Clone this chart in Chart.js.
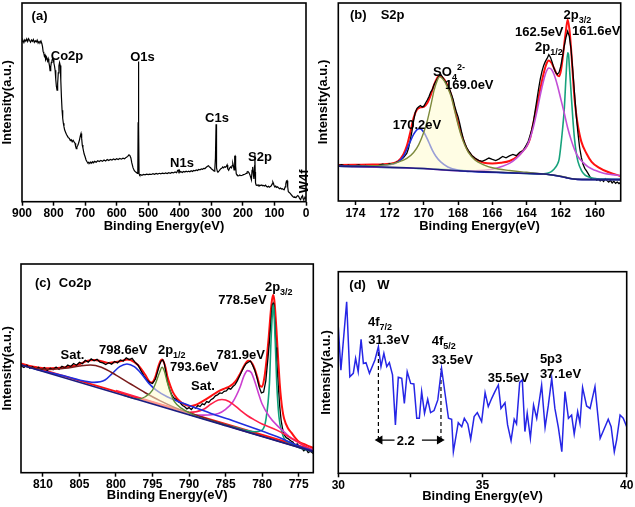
<!DOCTYPE html>
<html><head><meta charset="utf-8">
<script src="https://cdn.jsdelivr.net/npm/chart.js@4.4.1/dist/chart.umd.min.js"></script>
<style>
html,body{margin:0;padding:0;background:#fff;}
body{width:635px;height:507px;position:relative;overflow:hidden;}
canvas{position:absolute;}
</style></head><body>
<canvas id="ca" width="316" height="240" style="left:0;top:0;width:316px;height:240px"></canvas>
<canvas id="cb" width="319" height="240" style="left:316px;top:0;width:319px;height:240px"></canvas>
<canvas id="cc" width="316" height="257" style="left:0;top:250px;width:316px;height:257px"></canvas>
<canvas id="cd" width="319" height="257" style="left:316px;top:250px;width:319px;height:257px"></canvas>
<script>
// ---------------- DATA ----------------
// Tick values
const A_TICKS = [900,800,700,600,500,400,300,200,100,0];
const B_TICKS = [174,172,170,168,166,164,162,160];
const C_TICKS = [810,805,800,795,790,785,780,775];
const D_TICKS = [30,32.5,35,37.5,40];
const D_LABELED = [30,35,40];

// (a) survey spectrum [BE, intensity]
const A_SURVEY = [[900,80.5],[897,81.2],[894,80.1],[891,81.5],[888,80.8],[885,81.9],[882,80.6],[879,82.0],[876,81.1],[873,80.3],[870,81.4],[867,80.7],[864,81.6],[861,80.2],[858,81.0],[855,80.4],[852,81.3],[849,79.8],[846,80.6],[843,80.1],[840,80.9],[837,79.5],[835,78.0],[833,75.5],[831,74.8],[829,73.2],[827,73.8],[825,71.5],[822,72.6],[819,70.8],[817,71.9],[815,70.2],[813,68.5],[811,66.0],[809,67.8],[807,70.1],[805,71.0],[803,72.2],[801,71.6],[799,69.8],[797,68.3],[795,66.1],[793,61.5],[791,58.0],[789,56.2],[787,59.5],[785,64.8],[783,68.4],[781,70.0],[779,68.6],[777,61.0],[775,52.5],[773,46.0],[771,42.0],[769,39.5],[767,37.8],[765,36.2],[762,35.0],[759,33.8],[756,33.0],[753,32.2],[750,31.9],[747,30.8],[744,31.2],[741,30.2],[738,30.9],[735,30.1],[732,29.4],[730,27.8],[728,26.7],[726,27.5],[723,28.4],[721,29.3],[718,31.0],[715,33.2],[713,34.3],[711,32.0],[709,28.5],[707,27.1],[705,25.5],[703,24.0],[700,22.6],[697,21.0],[694,20.1],[691,19.5],[688,19.8],[685,19.2],[682,20.0],[679,19.4],[676,20.1],[673,19.6],[670,20.3],[665,19.9],[660,20.6],[655,20.2],[650,20.8],[645,20.3],[640,21.0],[635,20.5],[630,21.2],[625,20.7],[620,21.3],[615,21.0],[610,21.5],[605,21.1],[600,21.6],[595,21.2],[590,21.8],[585,21.4],[580,21.9],[575,21.6],[570,22.3],[565,22.8],[561,23.6],[558,23.2],[555,22.0],[552,19.5],[548,17.0],[544,15.6],[540,14.9],[537,14.7],[535,14.3],[533,15.0],[532,40.0],[531,70.5],[530,38.0],[529,14.0],[527,13.4],[524,13.6],[520,13.3],[515,13.7],[510,13.5],[505,13.9],[500,13.6],[495,13.9],[490,13.7],[485,14.1],[480,13.8],[475,14.2],[470,13.9],[465,14.3],[460,14.0],[455,14.4],[450,14.1],[445,14.5],[440,14.2],[435,14.6],[430,14.3],[425,14.7],[420,14.5],[415,15.0],[410,14.6],[407,15.6],[405,15.9],[403,15.2],[401,15.8],[399,14.9],[396,15.1],[392,14.7],[388,15.2],[384,14.9],[380,15.3],[376,15.0],[372,15.4],[368,15.1],[364,15.6],[360,15.2],[356,15.7],[352,15.5],[348,16.0],[344,15.7],[340,16.2],[336,16.0],[332,16.5],[328,16.3],[324,16.8],[320,16.7],[316,17.3],[312,17.8],[309,18.1],[306,17.5],[303,17.2],[300,16.6],[297,16.2],[294,15.8],[291,15.4],[289,16.5],[287,22.0],[285,39.0],[284,30.0],[283,17.0],[281,15.2],[279,15.0],[276,15.4],[273,16.0],[270,16.6],[267,16.8],[264,17.5],[261,17.0],[258,17.6],[255,17.3],[252,17.9],[250,18.5],[248,16.5],[245,15.8],[242,16.9],[239,17.5],[236,17.0],[234,18.2],[232,19.3],[230,18.0],[228,16.0],[226,22.8],[225,23.0],[223,18.0],[221,14.0],[219,13.5],[216,13.2],[213,13.0],[210,13.4],[206,13.1],[202,13.3],[198,13.6],[194,13.8],[190,14.2],[187,14.9],[184,15.2],[181,14.7],[178,13.6],[175,12.1],[173,11.0],[171,15.8],[169,17.5],[167,14.0],[165,11.5],[163,18.0],[162,23.8],[161,15.0],[160,9.5],[158,8.4],[155,8.1],[152,8.5],[149,8.0],[146,8.3],[143,8.1],[140,8.4],[137,8.0],[134,8.2],[131,7.9],[128,8.3],[125,7.6],[122,7.4],[119,7.8],[116,7.3],[113,7.6],[110,8.0],[107,9.0],[105,9.9],[103,9.2],[101,8.0],[99,7.6],[96,7.9],[93,7.2],[90,7.5],[87,7.0],[84,6.5],[81,6.9],[78,6.4],[75,6.6],[72,6.2],[69,6.0],[66,7.5],[64,9.0],[62,10.4],[60,10.6],[58,7.5],[56,5.0],[53,4.6],[50,4.2],[47,3.6],[44,3.0],[41,2.5],[38,2.2],[35,2.4],[32,2.0],[29,2.7],[26,3.1],[23,2.6],[20,1.5],[17,1.0],[14,2.4],[11,3.0],[9,1.4],[7,1.1],[5,1.6],[3,2.3],[1,1.8],[0,2.0]];

// (b) S2p
const B_DATA = [[175.0,17.9],[174.8,18.3],[174.6,17.6],[174.4,18.1],[174.2,17.4],[174.0,17.9],[173.8,18.2],[173.6,17.5],[173.4,18.0],[173.2,17.2],[173.0,17.8],[172.8,17.3],[172.6,18.1],[172.4,18.6],[172.2,18.0],[172.0,18.9],[171.8,18.6],[171.6,19.5],[171.4,20.4],[171.2,21.8],[171.0,24.0],[170.9,26.5],[170.8,30.5],[170.7,35.0],[170.6,40.5],[170.5,44.8],[170.4,46.8],[170.3,47.6],[170.2,48.2],[170.1,47.5],[170.0,47.9],[169.9,49.5],[169.8,51.0],[169.7,52.8],[169.6,55.0],[169.5,56.4],[169.4,58.8],[169.3,60.5],[169.2,62.0],[169.1,63.2],[169.0,63.8],[168.9,62.5],[168.8,61.0],[168.7,59.4],[168.6,57.6],[168.5,56.5],[168.4,54.0],[168.3,51.5],[168.2,48.0],[168.1,45.0],[168.0,42.5],[167.9,39.0],[167.8,35.0],[167.7,31.5],[167.6,29.0],[167.5,27.0],[167.4,25.5],[167.3,24.3],[167.2,23.0],[167.0,21.6],[166.8,20.5],[166.6,20.0],[166.4,20.8],[166.2,21.7],[166.0,21.0],[165.8,20.4],[165.6,21.3],[165.4,22.5],[165.2,21.8],[165.0,22.8],[164.8,23.5],[164.6,22.9],[164.4,24.6],[164.2,25.5],[164.0,28.5],[163.9,30.2],[163.8,33.0],[163.7,36.0],[163.6,40.0],[163.5,45.5],[163.4,51.0],[163.3,56.5],[163.2,61.5],[163.1,65.5],[163.0,68.5],[162.9,70.5],[162.8,72.0],[162.7,73.9],[162.6,72.5],[162.5,70.0],[162.4,67.0],[162.3,65.0],[162.2,63.9],[162.1,65.0],[162.0,68.1],[161.9,73.0],[161.8,78.2],[161.7,82.5],[161.6,85.7],[161.5,83.0],[161.4,76.5],[161.3,66.0],[161.2,54.6],[161.1,43.5],[161.0,34.5],[160.9,27.0],[160.8,22.0],[160.7,18.5],[160.6,16.5],[160.5,15.2],[160.4,13.8],[160.3,12.3],[160.2,11.0],[160.1,10.9],[160.0,11.3],[159.9,10.5],[159.8,11.0],[159.7,10.2],[159.6,10.8],[159.5,9.9],[159.4,11.2],[159.3,10.3],[159.2,9.5],[159.1,10.4],[159.0,9.1],[158.9,10.0],[158.8,8.9],[158.7,9.6],[158.6,8.8],[158.5,9.4]];
const B_ENVELOPE = [[175,18.2],[174,18.3],[173,18.4],[172,18.8],[171.5,20.2],[171.2,23.5],[171,27.7],[170.8,34.5],[170.6,42.0],[170.4,46.2],[170.2,47.3],[170.0,47.6],[169.8,49.5],[169.6,53.5],[169.4,58.8],[169.2,62.5],[169.1,63.4],[169.0,63.0],[168.8,61.3],[168.6,58.0],[168.4,53.5],[168.2,46.5],[168.0,39.5],[167.8,33.5],[167.6,28.5],[167.4,25.0],[167.0,21.3],[166.5,19.3],[166.0,18.9],[165.5,19.3],[165.0,20.2],[164.5,22.7],[164.2,25.5],[164.0,27.7],[163.8,31.5],[163.6,39.5],[163.4,48.0],[163.2,56.5],[163.0,64.5],[162.85,69.0],[162.7,70.9],[162.55,69.8],[162.4,67.2],[162.2,63.5],[162.1,63.0],[162.0,65.5],[161.9,71.4],[161.8,79.0],[161.7,86.0],[161.6,91.6],[161.5,87.0],[161.4,77.0],[161.3,64.0],[161.2,52.0],[161.1,44.0],[161.0,38.0],[160.8,30.0],[160.5,24.0],[160.2,19.8],[159.8,17.0],[159.2,14.5],[158.5,12.6]];
const B_BACKGROUND = [[175,17.6],[173,17.3],[171,16.8],[170,16.4],[169,15.8],[168,15.3],[167,14.9],[166,14.6],[165,14.3],[164,13.9],[163,13.6],[162.5,13.1],[162,12.4],[161.7,11.8],[161.4,11.2],[161.0,10.9],[160.5,10.8],[159,10.8],[158.5,10.8]];
const B_PEAK_170 = [[175,17.6],[173,17.6],[172,18.3],[171.5,19.8],[171.2,22.5],[171.0,26.0],[170.8,30.0],[170.6,33.6],[170.4,36.0],[170.25,36.5],[170.1,35.8],[169.9,33.2],[169.7,29.4],[169.5,25.6],[169.3,22.6],[169.0,19.6],[168.6,17.2],[168.0,15.6],[167,14.8],[165,14.3],[163,13.6],[162,12.4],[161,10.9],[158.5,10.8]];
const B_PEAK_169 = [[175,17.6],[173,17.8],[172,18.5],[171.5,19.6],[171,21.5],[170.6,24.5],[170.3,28.5],[170.0,34.8],[169.8,40.5],[169.6,48.0],[169.4,56.0],[169.2,61.3],[169.1,62.7],[169.0,62.5],[168.8,60.5],[168.6,57.0],[168.4,52.5],[168.2,45.5],[168.0,38.5],[167.8,32.5],[167.6,28.0],[167.4,24.6],[167.0,20.6],[166.5,18.3],[166.0,16.8],[165,15.4],[164,14.5],[162,12.5],[161,10.9],[158.5,10.8]];
const B_PEAK_1625 = [[175,17.6],[172,16.9],[170,16.4],[168,15.3],[167,15.3],[166,16.0],[165.5,17.3],[165,19.0],[164.6,21.5],[164.3,24.3],[164.0,27.5],[163.8,31.5],[163.6,37.5],[163.4,45.0],[163.2,53.5],[163.0,61.0],[162.85,65.3],[162.7,67.2],[162.55,66.5],[162.4,64.0],[162.2,58.5],[162.0,51.5],[161.8,44.5],[161.6,37.0],[161.4,31.0],[161.2,26.0],[161.0,22.5],[160.7,19.5],[160.4,17.2],[160.0,15.5],[159.5,14.0],[159,13.3],[158.5,12.9]];
const B_PEAK_1616 = [[175,17.6],[170,16.4],[166,14.6],[164,13.9],[163,13.8],[162.6,14.6],[162.4,16.0],[162.2,18.5],[162.1,21.0],[162.0,27.7],[161.9,36.0],[161.8,46.0],[161.7,62.0],[161.6,74.8],[161.55,74.0],[161.5,68.0],[161.4,55.0],[161.3,42.0],[161.2,31.5],[161.1,24.5],[161.0,20.0],[160.8,15.5],[160.6,13.2],[160.3,12.0],[160.0,11.4],[159,11.0],[158.5,10.9]];

// (c) Co2p
const C_DATA = [[813.0,51.2],[812.6,50.4],[812.2,51.5],[811.8,50.1],[811.4,50.8],[811.0,49.6],[810.6,50.5],[810.2,49.2],[809.8,50.3],[809.4,49.0],[809.0,50.1],[808.6,49.4],[808.2,50.6],[807.8,49.5],[807.4,51.0],[807.0,50.2],[806.6,51.6],[806.2,50.9],[805.8,52.3],[805.4,51.5],[805.0,52.9],[804.6,52.2],[804.2,53.8],[803.8,53.0],[803.4,54.5],[803.0,53.6],[802.6,54.3],[802.2,53.0],[801.8,52.6],[801.4,51.8],[801.0,52.7],[800.6,52.0],[800.2,53.3],[799.8,52.6],[799.4,54.0],[799.0,53.5],[798.6,55.0],[798.2,54.2],[797.8,54.8],[797.4,53.0],[797.0,51.6],[796.6,49.0],[796.2,46.5],[795.8,44.5],[795.4,43.2],[795.0,42.8],[794.6,44.9],[794.3,48.5],[794.0,52.0],[793.8,53.6],[793.6,54.0],[793.4,52.6],[793.2,48.5],[793.0,44.0],[792.7,40.2],[792.4,37.6],[792.1,35.9],[791.8,35.2],[791.5,34.0],[791.2,33.4],[790.9,32.2],[790.6,31.6],[790.3,30.6],[790.0,31.2],[789.7,30.3],[789.4,31.5],[789.1,30.9],[788.8,32.2],[788.5,31.7],[788.2,33.0],[787.9,32.6],[787.6,34.1],[787.3,33.7],[787.0,35.0],[786.7,35.6],[786.4,36.8],[786.1,37.3],[785.8,38.2],[785.5,38.0],[785.2,39.0],[784.9,39.2],[784.6,40.4],[784.3,40.0],[784.0,41.3],[783.7,42.2],[783.4,44.0],[783.1,46.2],[782.8,48.5],[782.5,50.6],[782.2,52.2],[781.9,52.9],[781.6,53.5],[781.3,51.5],[781.0,49.0],[780.7,45.3],[780.4,41.0],[780.1,38.2],[779.8,38.6],[779.5,44.0],[779.2,55.0],[779.0,63.0],[778.8,72.0],[778.7,77.0],[778.6,80.5],[778.5,81.2],[778.4,79.0],[778.3,74.0],[778.2,67.0],[778.1,60.0],[778.0,53.0],[777.8,42.0],[777.6,32.0],[777.4,25.0],[777.2,21.0],[777.0,18.2],[776.7,16.8],[776.4,16.2],[776.1,15.3],[775.8,14.7],[775.5,13.1],[775.2,13.8],[774.9,12.2],[774.6,11.8],[774.3,10.5],[774.0,11.4],[773.7,9.6],[773.4,10.3],[773.0,9.2]];
const C_ENVELOPE = [[813,51.6],[811,50.6],[809,50.0],[807,50.5],[805,52.0],[804,53.5],[803,54.0],[802,53.4],[801,52.6],[800,53.0],[799,53.8],[798.5,54.3],[798,54.0],[797,51.6],[796,46.9],[795.5,44.0],[795.2,43.2],[794.9,43.8],[794.6,46.0],[794.2,51.0],[793.9,53.6],[793.7,54.2],[793.5,53.3],[793.2,50.0],[793,46.5],[792.6,42.0],[792.2,38.5],[791.6,35.4],[791,33.5],[790.5,32.5],[790,32.0],[789.5,32.1],[789,32.6],[788,34.5],[787,36.7],[786,39.0],[785,40.5],[784.5,41.3],[784,42.5],[783.5,44.5],[783,47.5],[782.5,51.0],[782.2,52.8],[781.9,53.6],[781.6,53.4],[781.3,52.0],[781,49.5],[780.6,45.0],[780.3,41.5],[780,41.2],[779.7,45.5],[779.4,54.0],[779.1,65.0],[778.9,74.0],[778.7,81.5],[778.5,85.1],[778.35,83.0],[778.2,77.0],[778.0,66.0],[777.8,54.0],[777.6,43.0],[777.4,35.0],[777.2,29.5],[777,26.0],[776.5,21.5],[776,19.2],[775.5,16.8],[775,14.9],[774,13.3],[773,11.8]];
const C_BACKGROUND = [[813,51.6],[773,10.1]];
const C_BASELINE_RED = [[813,52.4],[773,10.9]];
const C_SAT_803 = [[813,51.6],[811,50.0],[809,49.5],[807,50.0],[805,51.1],[803.5,51.6],[802,50.5],[800,46.8],[798,42.5],[796,38.3],[794,34.5],[792,31.3],[790,28.8],[787,25.2],[784,21.7],[780,17.4],[773,10.1]];
const C_PEAK_7986 = [[813,51.6],[810,48.7],[807,46.3],[805,44.4],[803,43.3],[801.5,44.4],[800.5,47.6],[799.5,50.8],[798.5,52.1],[797.5,50.8],[796.5,47.3],[795.5,42.8],[794.5,39.6],[793,36.4],[791,33.5],[789,31.0],[787,28.4],[784,24.9],[781,21.2],[778,17.3],[775,12.8],[773,10.4]];
const C_PEAK_7936 = [[799,37.1],[797,35.3],[796,36.4],[795,39.6],[794.5,43.6],[794,48.4],[793.7,50.5],[793.4,48.9],[793,43.6],[792.5,38.0],[792,34.0],[791,30.8],[790,28.8],[789,27.0],[787,24.8],[785,22.5]];
const C_SAT_785 = [[800,39.4],[795,34.0],[792,30.9],[790,28.9],[788,30.4],[787,32.9],[786,34.8],[785.5,35.1],[785,34.8],[784,32.9],[783,30.0],[782,27.3],[781,25.2],[780,23.3],[778,20.4],[776,16.5],[773,10.4]];
const C_PEAK_7819 = [[790,27.7],[788,27.6],[786,28.4],[785,30.4],[784,34.0],[783,41.2],[782.5,46.3],[782,48.9],[781.5,48.0],[781,43.6],[780.5,38.0],[780,32.9],[779,26.8],[778,22.8],[777,19.6],[776,16.5],[775,14.4],[774,12.5],[773,10.9]];
const C_PEAK_7785 = [[790,27.9],[787,25.0],[784,22.0],[781,19.6],[780,20.4],[779.5,25.2],[779,42.8],[778.8,62.0],[778.6,76.4],[778.5,80.4],[778.4,78.0],[778.2,62.0],[778,42.8],[777.7,26.8],[777.3,19.6],[777,16.5],[776,14.1],[775,12.1],[773,10.1]];

// (d) W
const D_DATA = [[30.00,72.7],[30.09,51.2],[30.29,85.1],[30.40,47.9],[30.52,49.6],[30.60,57.0],[30.69,50.4],[30.79,66.4],[30.87,54.5],[30.96,54.9],[31.08,49.6],[31.27,56.2],[31.39,62.8],[31.48,52.9],[31.58,59.5],[31.68,52.9],[31.77,54.9],[31.88,48.8],[31.98,24.0],[32.08,47.6],[32.20,47.1],[32.29,34.7],[32.39,50.4],[32.51,44.6],[32.62,44.3],[32.72,27.3],[32.81,27.3],[32.89,40.5],[32.99,29.8],[33.10,36.7],[33.20,30.1],[33.32,31.1],[33.45,36.4],[33.58,52.1],[33.82,27.3],[33.93,26.8],[33.99,10.7],[34.16,25.1],[34.28,23.1],[34.37,27.3],[34.49,24.5],[34.59,16.9],[34.71,28.1],[34.82,30.1],[34.97,25.6],[35.09,40.0],[35.20,33.1],[35.32,37.2],[35.43,40.5],[35.55,43.8],[35.64,32.2],[35.78,35.0],[35.87,24.0],[35.99,16.2],[36.10,26.8],[36.18,24.5],[36.29,45.1],[36.38,46.3],[36.47,20.7],[36.55,29.8],[36.66,17.4],[36.77,33.9],[36.88,27.3],[37.05,43.8],[37.17,22.8],[37.28,33.4],[37.40,47.1],[37.51,32.2],[37.63,22.8],[37.75,10.7],[37.86,40.5],[37.98,27.3],[38.09,28.9],[38.18,19.5],[38.30,30.6],[38.38,24.8],[38.47,42.6],[38.61,33.4],[38.73,32.2],[38.90,43.0],[39.08,17.4],[39.25,23.1],[39.36,26.8],[39.46,23.1],[39.57,10.7],[39.65,16.5],[39.77,28.9],[39.88,27.3],[40.00,23.1]];
const D_GUIDE_731 = [[31.39,16.5],[31.39,61.0]];
const D_GUIDE_335 = [[33.56,16.5],[33.56,52.0]];
const D_ARROW_LEFT = [[31.95,16.5],[31.44,16.5]];
const D_ARROW_RIGHT = [[32.90,16.5],[33.51,16.5]];

// ---------------- RENDERING ----------------
const FAM = '"Liberation Sans", Arial, Helvetica, sans-serif';
Chart.defaults.font.family = FAM;
Chart.defaults.font.weight = 'bold';
Chart.defaults.color = '#000';

const pts = arr => arr.map(p => ({x: p[0], y: p[1]}));

const framePlugin = {id: 'frame', afterDatasetsDraw(chart) {
  const {ctx, chartArea: a} = chart;
  ctx.save(); ctx.strokeStyle = '#000'; ctx.lineWidth = 1.6;
  ctx.strokeRect(a.left, a.top, a.right - a.left, a.bottom - a.top);
  ctx.restore();
}};

function txtPlugin(items) {
  return {id: 'txt', afterDraw(chart) {
    const ctx = chart.ctx, xs = chart.scales.x, ys = chart.scales.y;
    items.forEach(it => {
      const px = xs.getPixelForValue(it.x), py = ys.getPixelForValue(it.y);
      const f = it.size || 13;
      const parts = it.parts.map(p => typeof p === 'string' ? {t: p, k: ''} : {t: p[0], k: p[1]});
      ctx.save();
      ctx.translate(px, py);
      if (it.rot) ctx.rotate(it.rot);
      ctx.fillStyle = '#000';
      ctx.textBaseline = it.mid ? 'middle' : 'alphabetic';
      ctx.textAlign = 'left';
      let w = 0; const ws = [];
      parts.forEach(p => { const s = p.k ? Math.round(f * 0.72) : f; ctx.font = 'bold ' + s + 'px ' + FAM; const m = ctx.measureText(p.t).width; ws.push([s, m]); w += m; });
      let x = it.center ? -w / 2 : 0;
      parts.forEach((p, i) => { const [s, m] = ws[i]; ctx.font = 'bold ' + s + 'px ' + FAM;
        const dy = p.k === 'sub' ? f * 0.3 : (p.k === 'sup' ? -f * 0.45 : 0);
        ctx.fillText(p.t, x, dy); x += m; });
      ctx.restore();
    });
  }};
}

function line(data, color, width, extra) {
  return Object.assign({data: pts(data), borderColor: color, borderWidth: width, pointRadius: 0, fill: false, tension: 0}, extra || {});
}
function smooth(data, color, width, extra) {
  return line(data, color, width, Object.assign({cubicInterpolationMode: 'monotone'}, extra || {}));
}

function makeChart(id, cfg) {
  return new Chart(document.getElementById(id), {
    type: 'line',
    data: {datasets: cfg.datasets},
    options: {
      responsive: false, animation: false, devicePixelRatio: 1,
      layout: {padding: cfg.pad},
      plugins: {legend: {display: false}, tooltip: {enabled: false}},
      scales: {
        x: {type: 'linear', reverse: cfg.reverse, min: cfg.xmin, max: cfg.xmax,
          afterBuildTicks: s => { s.ticks = cfg.ticks.map(v => ({value: v})); },
          afterFit: s => { s.height = cfg.xh; },
          ticks: {font: {size: 12, weight: 'bold'}, color: '#000', padding: 1, maxRotation: 0, autoSkip: false,
            callback: v => cfg.labeled ? (cfg.labeled.includes(v) ? String(v) : '') : String(v)},
          grid: {display: true, drawOnChartArea: false, drawTicks: true, tickLength: 4, tickColor: '#000', tickWidth: 1.5},
          border: {display: false},
          title: {display: true, text: 'Binding Energy(eV)', font: {size: 13, weight: 'bold'}, color: '#000', padding: {top: 0, bottom: cfg.xtPad}}
        },
        y: {min: 0, max: 100,
          afterFit: s => { s.width = cfg.yw; },
          ticks: {display: false}, grid: {display: false}, border: {display: false},
          title: {display: true, text: 'Intensity(a.u.)', font: {size: 13, weight: 'bold'}, color: '#000', padding: {top: cfg.ytPad, bottom: 0}}
        }
      }
    },
    plugins: [framePlugin, txtPlugin(cfg.labels)]
  });
}

const PALE_FILL = {target: 0, above: 'rgba(255,252,205,0.55)', below: 'rgba(0,0,0,0)'};

// (a)
makeChart('ca', {
  pad: {left: 0, top: 3, right: 10, bottom: 0}, yw: 22, xh: 38.3, xtPad: 6.2, ytPad: 0,
  reverse: true, xmin: 0, xmax: 900, ticks: A_TICKS,
  datasets: [line(A_SURVEY, '#000', 1.2)],
  labels: [
    {x: 844.5, y: 93.2, parts: ['(a)'], center: true, mid: true},
    {x: 757.4, y: 73.3, parts: ['Co2p'], center: true, mid: true},
    {x: 518.2, y: 72.6, parts: ['O1s'], center: true, mid: true},
    {x: 282.1, y: 42.1, parts: ['C1s'], center: true, mid: true},
    {x: 393, y: 19.5, parts: ['N1s'], center: true, mid: true},
    {x: 145.9, y: 22.5, parts: ['S2p'], center: true, mid: true},
    {x: 6.5, y: 10.2, parts: ['W4f'], center: true, mid: true, rot: -Math.PI / 2}
  ]
});

// (b)
makeChart('cb', {
  pad: {left: 0, top: 3, right: 14.3, bottom: 0}, yw: 22.3, xh: 39, xtPad: 6.2, ytPad: 0,
  reverse: true, xmin: 158.5, xmax: 175, ticks: B_TICKS,
  datasets: [
    smooth(B_BACKGROUND, '#1c1c80', 1.6),
    smooth(B_PEAK_169, '#7d8a3c', 1.4, {fill: PALE_FILL}),
    smooth(B_PEAK_170, '#1f2fe0', 1.6),
    smooth(B_PEAK_1625, '#c24fd6', 1.6),
    smooth(B_PEAK_1616, '#17a27c', 1.6),
    line(B_DATA, '#000', 1.3),
    smooth(B_ENVELOPE, '#ff1010', 2.0)
  ],
  labels: [
    {x: 173.83, y: 93.9, parts: ['(b)'], center: true, mid: true},
    {x: 171.83, y: 93.9, parts: ['S2p'], center: true, mid: true},
    {x: 169.46, y: 63.1, parts: ['SO', ['4', 'sub'], ['2-', 'sup']]},
    {x: 168.76, y: 56.4, parts: ['169.0eV']},
    {x: 171.82, y: 36.2, parts: ['170.2eV']},
    {x: 164.67, y: 83.3, parts: ['162.5eV']},
    {x: 161.35, y: 83.7, parts: ['161.6eV']},
    {x: 161.84, y: 91.7, parts: ['2p', ['3/2', 'sub']]},
    {x: 163.50, y: 75.8, parts: ['2p', ['1/2', 'sub']]}
  ]
});

// (c)
makeChart('cc', {
  pad: {left: 0, top: 14, right: 2.7, bottom: 0}, yw: 21, xh: 34.3, xtPad: 4.2, ytPad: 0,
  reverse: true, xmin: 773, xmax: 813, ticks: C_TICKS,
  datasets: [
    line(C_BACKGROUND, '#1c1c80', 1.6),
    smooth(C_PEAK_7936, '#5e8c36', 1.4, {fill: PALE_FILL}),
    smooth(C_SAT_803, '#7a1c1c', 1.5),
    smooth(C_PEAK_7986, '#1f2fe0', 1.6),
    smooth(C_SAT_785, '#ff2048', 1.6),
    smooth(C_PEAK_7819, '#cc3fd0', 1.6),
    smooth(C_PEAK_7785, '#12a07a', 1.6),
    line(C_DATA, '#000', 1.3),
    line(C_BASELINE_RED, '#ff1010', 1.8),
    smooth(C_ENVELOPE, '#ff1010', 2.0)
  ],
  labels: [
    {x: 810, y: 90.9, parts: ['(c)'], center: true, mid: true},
    {x: 805.6, y: 90.9, parts: ['Co2p'], center: true, mid: true},
    {x: 805.95, y: 56.4, parts: ['Sat.'], center: true, mid: true},
    {x: 799.0, y: 58.8, parts: ['798.6eV'], center: true, mid: true},
    {x: 794.26, y: 56.7, parts: ['2p', ['1/2', 'sub']]},
    {x: 792.62, y: 48.7, parts: ['793.6eV']},
    {x: 788.1, y: 41.2, parts: ['Sat.'], center: true, mid: true},
    {x: 782.93, y: 56.4, parts: ['781.9eV'], center: true, mid: true},
    {x: 782.7, y: 82.7, parts: ['778.5eV'], center: true, mid: true},
    {x: 779.62, y: 87.1, parts: ['2p', ['3/2', 'sub']]}
  ]
});

// (d)
makeChart('cd', {
  pad: {left: 0, top: 21.7, right: 8.3, bottom: 0}, yw: 22.3, xh: 33.7, xtPad: 3.2, ytPad: 2.9,
  reverse: false, xmin: 30, xmax: 40, ticks: D_TICKS, labeled: D_LABELED,
  datasets: [
    line(D_DATA, '#2626e6', 1.5),
    line(D_GUIDE_731, '#000', 1.2, {borderDash: [4, 3]}),
    line(D_GUIDE_335, '#000', 1.2, {borderDash: [4, 3]}),
    line(D_ARROW_LEFT, '#000', 1.2, {pointRadius: [0, 4], pointStyle: 'triangle', pointRotation: -90, backgroundColor: '#000', pointBorderColor: '#000'}),
    line(D_ARROW_RIGHT, '#000', 1.2, {pointRadius: [0, 4], pointStyle: 'triangle', pointRotation: 90, backgroundColor: '#000', pointBorderColor: '#000'})
  ],
  labels: [
    {x: 30.67, y: 93.4, parts: ['(d)'], center: true, mid: true},
    {x: 31.56, y: 93.4, parts: ['W'], center: true, mid: true},
    {x: 31.03, y: 73.1, parts: ['4f', ['7/2', 'sub']]},
    {x: 31.04, y: 64.0, parts: ['31.3eV']},
    {x: 33.24, y: 63.5, parts: ['4f', ['5/2', 'sub']]},
    {x: 33.24, y: 54.1, parts: ['33.5eV']},
    {x: 35.18, y: 45.3, parts: ['35.5eV']},
    {x: 36.99, y: 54.9, parts: ['5p3']},
    {x: 36.99, y: 47.5, parts: ['37.1eV']},
    {x: 32.34, y: 15.7, parts: ['2.2'], center: true, mid: true}
  ]
});
</script>
</body></html>
